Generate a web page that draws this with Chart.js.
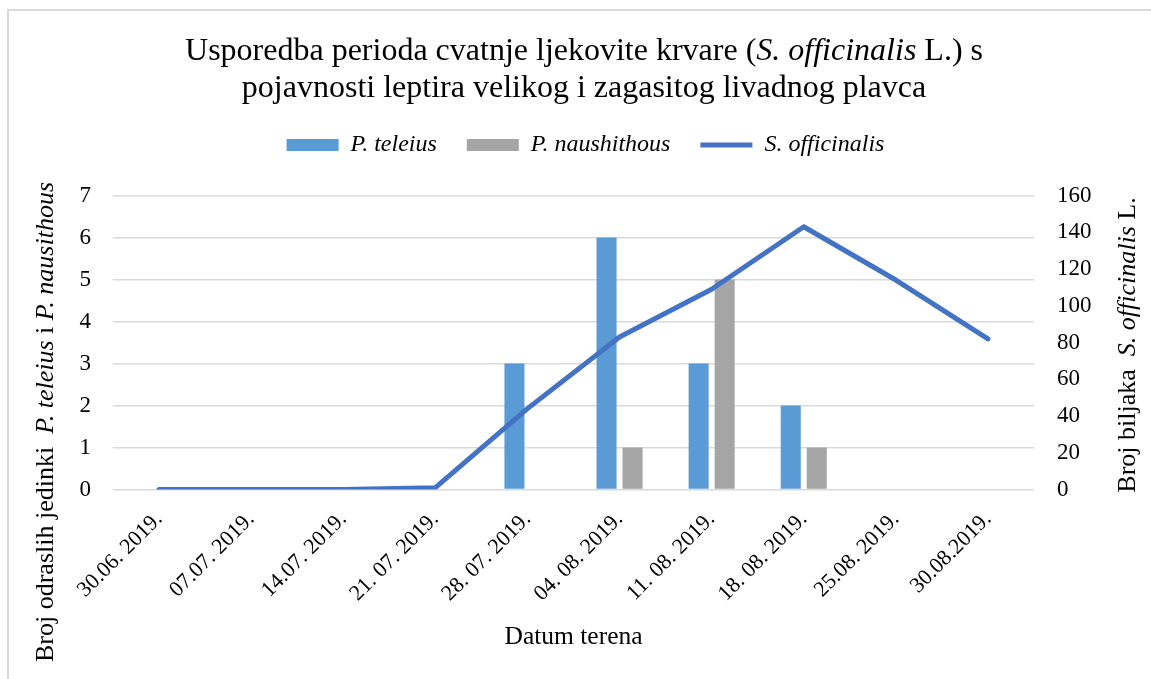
<!DOCTYPE html>
<html>
<head>
<meta charset="utf-8">
<script src="https://cdn.jsdelivr.net/npm/chart.js@4.4.1/dist/chart.umd.min.js"></script>
<style>
html,body{margin:0;padding:0;background:#fff;overflow:hidden}
#wrap{position:relative;width:1151px;height:679px}
#frame{position:absolute;left:7px;top:9px;width:1200px;height:800px;border:2px solid #d9d9d9;box-sizing:border-box}
#c{position:absolute;left:0;top:0}
</style>
</head>
<body>
<div id="wrap"><div id="frame"></div><canvas id="c" width="1151" height="679"></canvas></div>
<script>
// ---- data ----
const categories = ["30.06. 2019.", "07.07. 2019.", "14.07. 2019.", "21. 07. 2019.", "28. 07. 2019.",
                    "04. 08. 2019.", "11. 08. 2019.", "18. 08. 2019.", "25.08. 2019.", "30.08.2019."];
const teleius = [0, 0, 0, 0, 3, 6, 3, 2, 0, 0];
const naushithous = [0, 0, 0, 0, 0, 1, 5, 1, 0, 0];
const officinalis = [0, 0, 0, 1, 44, 83, 109, 143, 114, 82];
const seriesNames = ["P. teleius", "P. naushithous", "S. officinalis"];
const leftAxisMax = 7, leftAxisStep = 1;
const rightAxisMax = 160, rightAxisStep = 20;
const titleLines = [
  [["Usporedba perioda cvatnje ljekovite krvare (", false], ["S. officinalis", true], [" L.) s", false]],
  [["pojavnosti leptira velikog i zagasitog livadnog plavca", false]]
];
const leftTitle = [["Broj odraslih jedinki  ", false], ["P. teleius", true], [" i ", false], ["P. nausithous", true]];
const rightTitle = [["Broj biljaka  ", false], ["S. officinalis", true], [" L.", false]];
const xTitle = "Datum terena";

const FONT = "'Liberation Serif', 'Times New Roman', serif";

function drawRich(ctx, segs, cx, cy, size, rot) {
  ctx.save();
  ctx.translate(cx, cy);
  if (rot) ctx.rotate(rot);
  ctx.textBaseline = 'middle';
  ctx.textAlign = 'left';
  ctx.fillStyle = '#000';
  let total = 0;
  const widths = segs.map(([t, it]) => {
    ctx.font = (it ? 'italic ' : '') + size + 'px ' + FONT;
    const w = ctx.measureText(t).width; total += w; return w;
  });
  let x = -total / 2;
  segs.forEach(([t, it], i) => {
    ctx.font = (it ? 'italic ' : '') + size + 'px ' + FONT;
    ctx.fillText(t, x, 0);
    x += widths[i];
  });
  ctx.restore();
}

const richTextPlugin = {
  id: 'richText',
  afterDraw(chart) {
    const ctx = chart.ctx;
    drawRich(ctx, titleLines[0], 584, 52, 32, 0);
    drawRich(ctx, titleLines[1], 584, 89, 32, 0);
    drawRich(ctx, leftTitle, 46, 422, 26, -Math.PI / 2);
    drawRich(ctx, rightTitle, 1128, 345, 26, -Math.PI / 2);
  }
};

const tickFont = {family: FONT, size: 23};
const xTickFont = {family: FONT, size: 22};
const PADL = 20;

new Chart(document.getElementById('c'), {
  type: 'bar',
  data: {
    labels: categories,
    datasets: [
      {label: seriesNames[0], data: teleius, backgroundColor: '#5B9BD5', borderWidth: 0,
       yAxisID: 'y', order: 1, pointStyle: 'rect',
       categoryPercentage: 0.565, barPercentage: 0.77},
      {label: seriesNames[1], data: naushithous, backgroundColor: '#A5A5A5', borderWidth: 0,
       yAxisID: 'y', order: 1, pointStyle: 'rect',
       categoryPercentage: 0.565, barPercentage: 0.77},
      {label: seriesNames[2], data: officinalis, type: 'line', yAxisID: 'y1', order: 0,
       borderColor: '#4472C4', backgroundColor: '#4472C4', borderWidth: 5,
       borderJoinStyle: 'round', borderCapStyle: 'round', pointRadius: 0, pointStyle: 'line',
       tension: 0, fill: false}
    ]
  },
  options: {
    responsive: false,
    animation: false,
    devicePixelRatio: 1,
    layout: {padding: {top: 103, left: PADL, right: 0, bottom: 0}},
    plugins: {
      title: {display: false},
      subtitle: {display: true, text: '', weight: 500, padding: 0, font: {size: 25, lineHeight: 1.14}},
      tooltip: {enabled: false},
      legend: {
        position: 'top',
        labels: {
          sort: (a, b) => a.datasetIndex - b.datasetIndex,
          font: {family: FONT, size: 24, style: 'italic'},
          color: '#000',
          usePointStyle: true,
          pointStyleWidth: 52,
          boxHeight: 12,
          padding: 30
        }
      }
    },
    scales: {
      x: {
        grid: {display: false, drawTicks: false},
        border: {display: false},
        ticks: {font: xTickFont, color: '#000', minRotation: 45, maxRotation: 45, autoSkip: false, padding: 17},
        title: {display: true, text: xTitle, font: {family: FONT, size: 25.5}, color: '#000', padding: {top: 0, bottom: 26}},
        afterFit: (s) => { s.height = 189.5; }
      },
      y: {
        position: 'left', min: 0, max: leftAxisMax,
        ticks: {stepSize: leftAxisStep, font: tickFont, color: '#000', padding: 22},
        grid: {color: '#d9d9d9', lineWidth: 1.5, drawTicks: false},
        border: {display: false},
        afterFit: (s) => { s.width = 113 - PADL; }
      },
      y1: {
        position: 'right', min: 0, max: rightAxisMax,
        ticks: {stepSize: rightAxisStep, font: tickFont, color: '#000', padding: 23},
        grid: {drawOnChartArea: false, drawTicks: false},
        border: {display: false},
        afterFit: (s) => { s.width = 117; }
      }
    }
  },
  plugins: [richTextPlugin]
});
</script>
</body>
</html>
